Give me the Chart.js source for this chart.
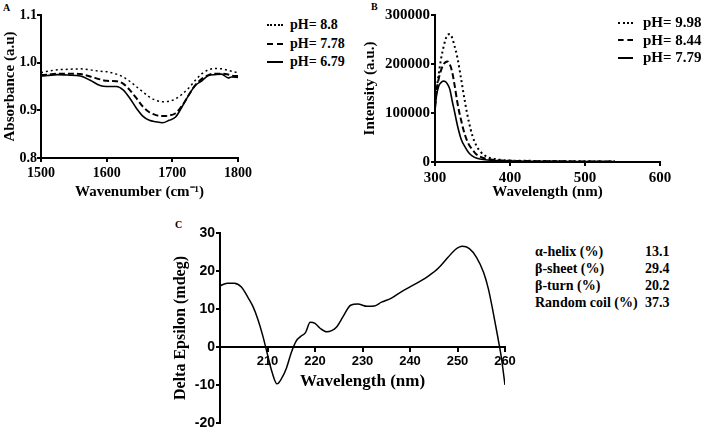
<!DOCTYPE html>
<html>
<head>
<meta charset="utf-8">
<script src="https://cdn.jsdelivr.net/npm/chart.js@4.4.1/dist/chart.umd.min.js"></script>
<style>
  html, body { margin: 0; padding: 0; background: #fff; }
  body { width: 702px; height: 431px; position: relative; overflow: hidden;
         font-family: 'Liberation Serif', 'Times New Roman', serif; font-weight: bold; color: #000; }
  canvas { position: absolute; }
  #chartA { left: 0; top: 0; }
  #chartB { left: 360px; top: 0; }
  #chartC { left: 170px; top: 215px; }
  .panel { position: absolute; font-size: 10px; line-height: 10px; }
  .legend { position: absolute; }
  .legend .row { display: flex; align-items: center; white-space: nowrap; }
  .legend .swatch { border-top: 2px solid #000; }
  #legendA { left: 267px; top: 16px; font-size: 14px; }
  #legendA .row { height: 18.5px; }
  #legendA .swatch { width: 16px; margin-right: 7px; }
  #legendB { left: 618px; top: 14px; font-size: 15px; }
  #legendB .row { height: 17.5px; }
  #legendB .swatch { width: 15px; margin-right: 10px; }
  #ssTable { position: absolute; left: 535px; top: 243px; font-size: 14px; line-height: 17px;
             border-collapse: collapse; }
  #ssTable td { padding: 0; white-space: nowrap; }
  #ssTable td.name { width: 110px; }
</style>
</head>
<body>
<div class="panel" style="left:3px;top:3px">A</div>
<div class="panel" style="left:371px;top:2px">B</div>
<div class="panel" style="left:175px;top:220px">C</div>

<canvas id="chartA" width="262" height="210"></canvas>
<canvas id="chartB" width="320" height="210"></canvas>
<canvas id="chartC" width="350" height="258"></canvas>

<div class="legend" id="legendA"></div>
<div class="legend" id="legendB"></div>
<table id="ssTable"></table>

<script>
// --- A: FTIR absorbance ---
const wavenumbers = [1500, 1510, 1525, 1540, 1560, 1575, 1590, 1600, 1615, 1625, 1635, 1645, 1655, 1665,
    1675, 1685, 1695, 1705, 1715, 1725, 1735, 1745, 1755, 1765, 1775, 1785, 1790, 1800];
const absPH88 = [0.979, 0.982, 0.985, 0.986, 0.987, 0.985, 0.982, 0.981, 0.976, 0.970, 0.961, 0.950, 0.939, 0.928,
    0.921, 0.918, 0.919, 0.924, 0.934, 0.947, 0.963, 0.977, 0.985, 0.988, 0.987, 0.984, 0.982, 0.979];
const absPH778 = [0.974, 0.975, 0.977, 0.977, 0.976, 0.971, 0.965, 0.962, 0.961, 0.956, 0.943, 0.926, 0.908, 0.896,
    0.890, 0.888, 0.889, 0.894, 0.910, 0.932, 0.953, 0.966, 0.974, 0.977, 0.977, 0.975, 0.973, 0.972];
const absPH679 = [0.972, 0.973, 0.975, 0.974, 0.972, 0.963, 0.952, 0.950, 0.950, 0.943, 0.926, 0.905, 0.888, 0.879,
    0.876, 0.874, 0.879, 0.886, 0.908, 0.932, 0.952, 0.962, 0.973, 0.975, 0.976, 0.968, 0.970, 0.969];

// --- B: fluorescence intensity ---
const emWavelengths = [300, 302, 305, 308, 311, 314, 317, 320, 323, 326, 330, 335, 340, 345, 350, 355, 360,
    370, 380, 390, 400, 420, 450, 500, 540];
const intPH998 = [110000, 145000, 180000, 210000, 232000, 250000, 260000, 261000, 253000, 237000, 212000, 168000,
    122000, 83000, 53000, 34000, 22000, 10000, 6000, 4000, 3000, 2500, 2000, 1500, 1000];
const intPH844 = [110000, 145000, 170000, 187000, 198000, 204000, 205000, 198000, 183000, 158000, 120000, 84000,
    55000, 36000, 25000, 16000, 11000, 6000, 4000, 3000, 2500, 2000, 1500, 1200, 1000];
const intPH779 = [108000, 135000, 155000, 162000, 165000, 164000, 158000, 147000, 124000, 103000, 74000, 46000,
    31000, 19000, 12000, 8000, 6000, 4000, 3000, 2500, 2000, 1500, 1200, 1000, 800];

// --- C: circular dichroism ---
const cdWavelengths = [200, 201.5, 203, 204.5, 206, 207, 208, 209, 210, 211, 212, 213, 214, 215, 216, 217, 218,
    219, 220, 221, 222.5, 223.5, 224.5, 226, 227.5, 229, 231, 232.5, 234, 236, 238, 240, 242, 244, 246, 248,
    249.5, 251, 252.5, 254, 255.5, 256.5, 257.5, 258.5, 259.2, 260];
const cdValues = [16.1, 16.8, 16.8, 15.8, 12.8, 10.5, 7.2, 3.0, -2.0, -6.8, -9.7, -8.2, -5.5, -1.5, 1.5, 2.8, 3.8,
    6.5, 6.2, 5.0, 4.0, 4.3, 5.2, 8.2, 11.0, 11.3, 10.7, 10.8, 11.8, 12.8, 14.4, 15.8, 17.2, 18.8, 20.8, 23.6,
    25.6, 26.5, 25.9, 23.6, 19.6, 15.3, 9.2, 2.5, -2.5, -10.0];

const structureNames = ['α-helix (%)', 'β-sheet (%)', 'β-turn (%)', 'Random coil (%)'];
const structureValues = ['13.1', '29.4', '20.2', '37.3'];

const SERIF = "'Liberation Serif', 'Times New Roman', serif";
const SANS = "'Liberation Sans', Arial, sans-serif";

Chart.defaults.font.family = SERIF;
Chart.defaults.font.weight = 'bold';
Chart.defaults.color = '#000';
Chart.defaults.animation = false;

function pts(xs, ys) {
    return xs.map((x, i) => ({ x: x, y: ys[i] }));
}

function line(label, xs, ys, dash, width) {
    return {
        label: label,
        data: pts(xs, ys),
        borderColor: '#000',
        borderWidth: width,
        borderDash: dash,
        pointRadius: 0,
        fill: false,
        cubicInterpolationMode: 'monotone'
    };
}

function axisStyle() {
    return {
        border: { display: true, color: '#000', width: 2 },
        grid: { drawOnChartArea: false, drawTicks: true, tickLength: 4, color: '#000', lineWidth: 2 }
    };
}

const noLegend = { legend: { display: false }, tooltip: { enabled: false } };

// panel A
const chartA = new Chart(document.getElementById('chartA'), {
    type: 'line',
    data: {
        datasets: [
            line('pH= 8.8', wavenumbers, absPH88, [2, 3], 1.5),
            line('pH= 7.78', wavenumbers, absPH778, [6, 3], 2),
            line('pH= 6.79', wavenumbers, absPH679, [], 1.6)
        ]
    },
    options: {
        responsive: false,
        layout: { padding: { top: 15, right: 24, left: 0, bottom: 0 } },
        plugins: noLegend,
        scales: {
            x: Object.assign(axisStyle(), {
                type: 'linear', min: 1500, max: 1800,
                ticks: { stepSize: 100, font: { size: 14 }, padding: 3, maxRotation: 0, autoSkip: false,
                         callback: v => String(v) },
                title: { display: true, text: 'Wavenumber (cm⁻¹)', font: { size: 15 }, padding: { top: 0, bottom: 9 } },
                afterFit: s => { s.height = 52; }
            }),
            y: Object.assign(axisStyle(), {
                min: 0.8, max: 1.1,
                ticks: { stepSize: 0.1, font: { size: 14 }, padding: 0, callback: v => v.toFixed(1) },
                title: { display: true, text: 'Absorbance (a.u)', font: { size: 15 }, padding: { top: 1, bottom: 0 } },
                afterFit: s => { s.width = 41; }
            })
        }
    }
});

// panel B
const chartB = new Chart(document.getElementById('chartB'), {
    type: 'line',
    data: {
        datasets: [
            line('pH= 9.98', emWavelengths, intPH998, [2, 3], 2),
            line('pH= 8.44', emWavelengths, intPH844, [6, 3], 2),
            line('pH= 7.79', emWavelengths, intPH779, [], 1.6)
        ]
    },
    options: {
        responsive: false,
        layout: { padding: { top: 15, right: 20, left: 0, bottom: 0 } },
        plugins: noLegend,
        scales: {
            x: Object.assign(axisStyle(), {
                type: 'linear', min: 300, max: 600,
                ticks: { stepSize: 100, font: { size: 15 }, padding: 3, maxRotation: 0, autoSkip: false,
                         callback: v => String(v) },
                title: { display: true, text: 'Wavelength (nm)', font: { size: 15 }, padding: { top: 0, bottom: 9 } },
                afterFit: s => { s.height = 48; }
            }),
            y: Object.assign(axisStyle(), {
                min: 0, max: 300000,
                ticks: { stepSize: 100000, font: { size: 15 }, padding: 1, callback: v => String(v) },
                title: { display: true, text: 'Intensity (a.u.)', font: { size: 15 }, padding: { top: 1, bottom: 0 } },
                afterFit: s => { s.width = 75; }
            })
        }
    }
});

// panel C - the x axis sits on y = 0, so it does not shrink the plot area;
// the bottom padding keeps room for it instead
const chartC = new Chart(document.getElementById('chartC'), {
    type: 'line',
    data: {
        datasets: [line('CD', cdWavelengths, cdValues, [], 1.5)]
    },
    options: {
        responsive: false,
        layout: { padding: { top: 18, right: 15, left: 0, bottom: 50 } },
        plugins: noLegend,
        scales: {
            x: Object.assign(axisStyle(), {
                type: 'linear', min: 200, max: 260, position: { y: 0 },
                ticks: { stepSize: 10, font: { size: 13, family: SANS }, padding: 3, maxRotation: 0, autoSkip: false,
                         callback: v => (v === 200 ? '' : String(v)) },
                title: { display: true, text: 'Wavelength (nm)', font: { size: 17 }, padding: { top: 0, bottom: 5 } },
                afterFit: s => { s.height = 50; }
            }),
            y: Object.assign(axisStyle(), {
                min: -20, max: 30,
                ticks: { stepSize: 10, font: { size: 14, family: SANS }, padding: 1 },
                title: { display: true, text: 'Delta Epsilon (mdeg)', font: { size: 16 }, padding: { top: 1, bottom: 0 } },
                afterFit: s => { s.width = 50; }
            })
        }
    }
});

function buildLegend(chart, el) {
    chart.data.datasets.forEach(ds => {
        const row = document.createElement('div');
        row.className = 'row';
        const sw = document.createElement('span');
        sw.className = 'swatch';
        if (ds.borderDash.length && ds.borderDash[0] <= 2) sw.style.borderTopStyle = 'dotted';
        else if (ds.borderDash.length) sw.style.borderTopStyle = 'dashed';
        const txt = document.createElement('span');
        txt.textContent = ds.label;
        row.appendChild(sw);
        row.appendChild(txt);
        el.appendChild(row);
    });
}
buildLegend(chartA, document.getElementById('legendA'));
buildLegend(chartB, document.getElementById('legendB'));

const table = document.getElementById('ssTable');
structureNames.forEach((name, i) => {
    const tr = document.createElement('tr');
    tr.innerHTML = '<td class="name"></td><td></td>';
    tr.children[0].textContent = name;
    tr.children[1].textContent = structureValues[i];
    table.appendChild(tr);
});
</script>
</body>
</html>
